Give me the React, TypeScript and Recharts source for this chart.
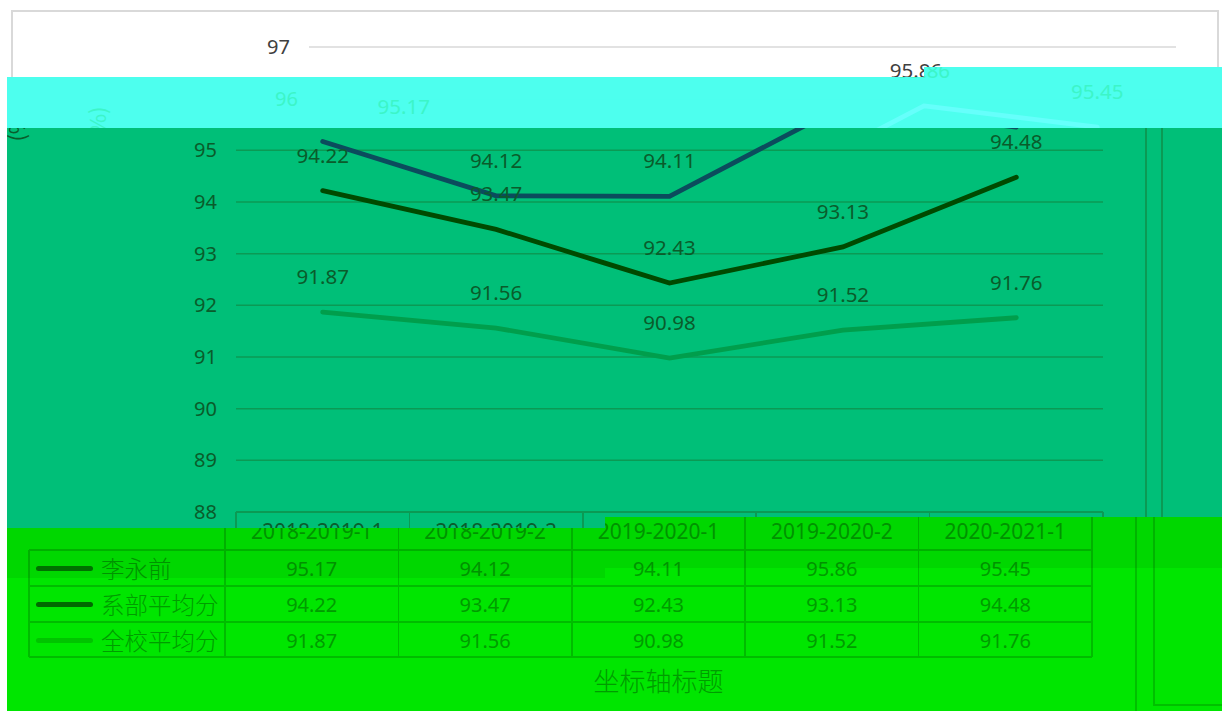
import { LineChart, Line, XAxis, YAxis, CartesianGrid, LabelList } from 'recharts';

const categories = ['2018-2019-1', '2018-2019-2', '2019-2020-1', '2019-2020-2', '2020-2021-1'];
const studentScores = [95.17, 94.12, 94.11, 95.86, 95.45];
const departmentAvg = [94.22, 93.47, 92.43, 93.13, 94.48];
const schoolAvg = [91.87, 91.56, 90.98, 91.52, 91.76];
const seriesNames = ['李永前', '系部平均分', '全校平均分'];
const yTicks = [88, 89, 90, 91, 92, 93, 94, 95, 96, 97];
const yAxisTitle = '(%)';
const xAxisTitle = '坐标轴标题';

const seriesValues = [studentScores, departmentAvg, schoolAvg];
const seriesKeys = ['s0', 's1', 's2'];

const data = categories.map((name, i) => ({
  name,
  s0: seriesValues[0][i],
  s1: seriesValues[1][i],
  s2: seriesValues[2][i],
}));

interface Palette {
  text: string;
  grid: string;
  lines: string[];
  tableText: string;
  tableBorder: string;
  keys: string[];
}

const white: Palette = {
  text: '#404040', grid: '#d9d9d9', lines: ['#0b4c5d', '#004a00', '#009e4c'],
  tableText: '#404040', tableBorder: '#d9d9d9', keys: ['#0b4c5d', '#004a00', '#009e4c'],
};
const cyan: Palette = {
  text: '#3cf5c8', grid: '#4dffee', lines: ['#66fffb', '#66fffb', '#66fffb'],
  tableText: '#3cf5c8', tableBorder: '#4dffee', keys: ['#66fffb', '#66fffb', '#66fffb'],
};
const green: Palette = {
  text: '#0a5c2b', grid: '#0b9a54', lines: ['#0b4c5d', '#004a00', '#009e4c'],
  tableText: '#0a5c2b', tableBorder: '#0b9a54', keys: ['#0b4c5d', '#004a00', '#009e4c'],
};
const lime: Palette = {
  text: '#009c00', grid: '#00c400', lines: ['#007800', '#006a00', '#00c400'],
  tableText: '#009c00', tableBorder: '#00bc00', keys: ['#007800', '#006a00', '#00c400'],
};

const W = 1222;
const H = 711;
const plotLeft = 236;
const plotRight = 1103;
const colW = (plotRight - plotLeft) / categories.length;
const tableTop = 512;
const rowTops = [550, 586, 622, 657];
const labelOffset = 28;
const cjk = '"Noto Sans CJK SC", "Noto Sans", sans-serif';

// area of the scene (unshifted coords) that one region shows
interface Win { x0: number; x1: number; y0: number; y1: number }

function Scene({ p, win }: { p: Palette; win: Win }) {
  // only draw texts that can be seen through the region's window
  const seen = (cx: number, cy: number, hw: number, hh: number) =>
    cx + hw > win.x0 && cx - hw < win.x1 && cy + hh > win.y0 && cy - hh < win.y1;

  const hLine = (y: number, x1: number, x2: number, k: string) => (
    <div key={k} style={{ position: 'absolute', left: x1, top: y - 1, width: x2 - x1, height: 1.5, background: p.tableBorder }} />
  );
  const vLine = (x: number, y1: number, y2: number, k: string) => (
    <div key={k} style={{ position: 'absolute', left: x - 0.75, top: y1, width: 1.5, height: y2 - y1, background: p.tableBorder }} />
  );

  const renderTick = (props: any) => {
    const { x, y, payload } = props;
    if (!seen(x - 11, y, 13, 10)) return <g />;
    return (
      <text x={x} y={y} dy="0.35em" textAnchor="end" fill={p.text} fontSize={20}>
        {payload.value}
      </text>
    );
  };

  const renderLabel = (props: any) => {
    const vx = props.viewBox?.x ?? props.x;
    const vy = props.viewBox?.y ?? props.y;
    if (vx == null || vy == null) return null;
    if (!seen(vx, vy - labelOffset - 7, 28, 10)) return null;
    return (
      <text x={vx} y={vy - labelOffset} textAnchor="middle" fill={p.text} fontSize={20.5}>
        {Number(props.value).toFixed(2)}
      </text>
    );
  };

  return (
    <div style={{ position: 'relative', width: W, height: H, fontFamily: '"Noto Sans", sans-serif' }}>
      <LineChart width={W} height={H} data={data} margin={{ top: 47, right: W - plotRight, bottom: H - tableTop, left: plotLeft - 60 }}>
        <CartesianGrid vertical={false} stroke={p.grid} strokeWidth={1.5} />
        <XAxis dataKey="name" hide padding={{ left: colW / 2, right: colW / 2 }} />
        <YAxis
          domain={[88, 97]}
          ticks={yTicks}
          interval={0}
          width={60}
          axisLine={false}
          tickLine={false}
          tickSize={0}
          tickMargin={19}
          tick={renderTick}
        />
        {seriesKeys.map((k, i) => (
          <Line
            key={k}
            dataKey={k}
            stroke={p.lines[i]}
            strokeWidth={4.8}
            strokeLinecap="round"
            dot={false}
            isAnimationActive={false}
          >
            <LabelList dataKey={k} content={renderLabel} />
          </Line>
        ))}
      </LineChart>

      {seen(15, 124, 12, 22) && (
        <div style={{ position: 'absolute', left: 15 - 40, top: 124 - 15, width: 80, height: 30, transform: 'rotate(-90deg)', textAlign: 'center', color: p.text, fontSize: 22, fontFamily: cjk, lineHeight: '30px' }}>
          {yAxisTitle}
        </div>
      )}

      {/* data table */}
      {hLine(tableTop, plotLeft, plotRight, 'h0')}
      {rowTops.map((y, i) => hLine(y, 40, plotRight, 'h' + (i + 1)))}
      {vLine(40, rowTops[0], rowTops[3], 'v0')}
      {categories.map((_, i) => vLine(plotLeft + i * colW, tableTop, rowTops[3], 'vc' + i))}
      {vLine(plotRight, tableTop, rowTops[3], 'vend')}
      {categories.map((c, i) =>
        seen(plotLeft + (i + 0.5) * colW, 531, 60, 9) ? (
          <div key={c} style={{ position: 'absolute', left: plotLeft + i * colW, top: tableTop, width: colW, height: rowTops[0] - tableTop, display: 'flex', alignItems: 'center', justifyContent: 'center', color: p.tableText, fontSize: 21 }}>
            {c}
          </div>
        ) : null
      )}
      {seriesNames.map((name, r) => (
        <div key={name}>
          <div style={{ position: 'absolute', left: 47, top: rowTops[r] + 15.5, width: 57, height: 5, borderRadius: 3, background: p.keys[r] }} />
          {seen(146, rowTops[r] + 18, 36, 12) && (
            <div style={{ position: 'absolute', left: 112, top: rowTops[r], height: 36, display: 'flex', alignItems: 'center', color: p.tableText, fontSize: 23.5, fontFamily: cjk, fontWeight: 300 }}>
              {name}
            </div>
          )}
          {seriesValues[r].map((v, i) =>
            seen(plotLeft + (i + 0.5) * colW, rowTops[r] + 18, 27, 9) ? (
              <div key={i} style={{ position: 'absolute', left: plotLeft + i * colW, top: rowTops[r], width: colW, height: 36, display: 'flex', alignItems: 'center', justifyContent: 'center', color: p.tableText, fontSize: 20 }}>
                {v.toFixed(2)}
              </div>
            ) : null
          )}
        </div>
      ))}
      {seen((plotLeft + plotRight) / 2, 680, 67, 14) && (
        <div style={{ position: 'absolute', left: plotLeft, top: 662, width: plotRight - plotLeft, height: 36, textAlign: 'center', color: p.tableText, fontSize: 26, fontFamily: cjk, fontWeight: 300, lineHeight: '36px' }}>
          {xAxisTitle}
        </div>
      )}
    </div>
  );
}

interface Region {
  x: number; y: number; w: number; h: number;
  shift: number; p: Palette; bg: string;
}

const strip = (x: number, y: number, w: number, h: number, c: string) => (
  <div style={{ position: 'absolute', left: x, top: y, width: w, height: h, background: c }} />
);

const regions: Region[] = [
  { x: 0, y: 0, w: W, h: 128, shift: 73, p: white, bg: '#ffffff' },
  { x: 7, y: 77, w: 917, h: 51, shift: 81, p: cyan, bg: '#4dffee' },
  { x: 924, y: 67, w: W - 924, h: 61, shift: 81, p: cyan, bg: '#4dffee' },
  { x: 7, y: 128, w: 598, h: 400, shift: 0, p: green, bg: '#00bf78' },
  { x: 605, y: 128, w: W - 605, h: 389, shift: 0, p: green, bg: '#00bf78' },
  { x: 7, y: 528, w: 598, h: H - 528, shift: -11, p: lime, bg: '#00e600' },
  { x: 605, y: 517, w: W - 605, h: H - 517, shift: -11, p: lime, bg: '#00e600' },
];

// regions painted later cover earlier ones; a text only needs drawing where it is not covered
const covered = (i: number): Win => {
  const r = regions[i];
  let y1 = r.y + r.h;
  if (i === 0) y1 = 77;
  return { x0: r.x - r.shift, x1: r.x + r.w - r.shift, y0: r.y, y1 };
};

export default function App() {
  return (
    <div style={{ position: 'absolute', left: 0, top: 0, width: W, height: H, overflow: 'hidden', background: '#ffffff' }}>
      {regions.map((r, i) => (
        <div key={i} style={{ position: 'absolute', left: r.x, top: r.y, width: r.w, height: r.h, overflow: 'hidden', background: r.bg }}>
          <div style={{ position: 'absolute', left: -r.x + r.shift, top: -r.y }}>
            <Scene p={r.p} win={covered(i)} />
          </div>
        </div>
      ))}
      {/* chart border remnants */}
      {strip(11, 10, 1207, 1.5, '#d9d9d9')}
      {strip(11, 10, 1.5, 67, '#d9d9d9')}
      {strip(1217, 10, 1.5, 57, '#d9d9d9')}
      {strip(1145, 128, 1.5, 389, '#0b9a54')}
      {strip(1161, 128, 1.5, 389, '#0b9a54')}
      {strip(1135, 517, 1.5, 194, '#00c000')}
      {strip(1153, 517, 1.5, 188, '#00c000')}
      {strip(1153, 704, 69, 1.5, '#00c000')}
      {/* darker band at the top of the table area */}
      {strip(7, 528, 598, 50, 'rgba(0,40,0,0.08)')}
      {strip(605, 517, W - 605, 51, 'rgba(0,40,0,0.08)')}
    </div>
  );
}
